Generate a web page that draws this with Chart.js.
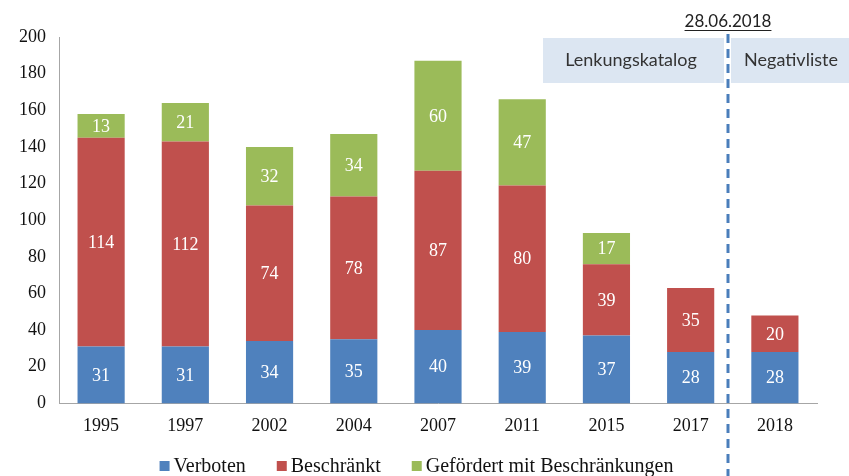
<!DOCTYPE html>
<html>
<head>
<meta charset="utf-8">
<script src="https://cdn.jsdelivr.net/npm/chart.js@4"></script>
<style>
  html, body { margin: 0; padding: 0; background: #fff; }
  #wrap { width: 849px; height: 476px; }
</style>
</head>
<body>
<div id="wrap"><canvas id="chart-regeln" width="849" height="476"></canvas></div>
<script>
// ---- Daten ----
const JAHRE       = ['1995', '1997', '2002', '2004', '2007', '2011', '2015', '2017', '2018'];
const VERBOTEN    = [31, 31, 34, 35, 40, 39, 37, 28, 28];
const BESCHRAENKT = [114, 112, 74, 78, 87, 80, 39, 35, 20];
const GEFOERDERT  = [13, 21, 32, 34, 60, 47, 17, null, null];
const Y_TICKS     = [0, 20, 40, 60, 80, 100, 120, 140, 160, 180, 200];

const STICHTAG    = '28.06.2018';
const PHASEN      = ['Lenkungskatalog', 'Negativliste'];

const FARBEN = { verboten: '#4f81bd', beschraenkt: '#c0504d', gefoerdert: '#9bbb59' };
const SERIF  = "'Liberation Serif', 'Times New Roman', serif";
const SANS   = "Lato, 'Open Sans', sans-serif";

// ---- Zahlen weiss in die Segmente ----
const segmentLabels = {
  id: 'segment-labels',
  afterDatasetsDraw(chart) {
    const { ctx } = chart;
    ctx.save();
    ctx.font = `18px ${SERIF}`;
    ctx.fillStyle = '#ffffff';
    ctx.textAlign = 'center';
    ctx.textBaseline = 'middle';
    chart.data.datasets.forEach((ds, i) => {
      const meta = chart.getDatasetMeta(i);
      meta.data.forEach((bar, j) => {
        const v = ds.data[j];
        if (v == null) return;
        ctx.fillText(String(v), bar.x, (bar.y + bar.base) / 2 + 1);
      });
    });
    ctx.restore();
  }
};

// ---- Legende unten, eigene Zeichnung ----
const legendeUnten = {
  id: 'legende-unten',
  afterDraw(chart) {
    const { ctx } = chart;
    const ds = chart.data.datasets;
    const box = 10, gapText = 4, gapItem = 31, y = 466;
    ctx.save();
    ctx.font = `20px ${SERIF}`;
    const widths = ds.map(d => box + gapText + ctx.measureText(d.label).width);
    const total = widths.reduce((a, b) => a + b, 0) + gapItem * (ds.length - 1);
    let x = (chart.width - total) / 2 - 8;
    ctx.textBaseline = 'middle';
    ctx.textAlign = 'left';
    ds.forEach((d, i) => {
      ctx.fillStyle = d.backgroundColor;
      ctx.fillRect(x, y - box / 2, box, box);
      ctx.fillStyle = '#111';
      ctx.fillText(d.label, x + box + gapText, y + 1);
      x += widths[i] + gapItem;
    });
    ctx.restore();
  }
};

// ---- Stichtag: gestrichelte Linie + Phasenkaesten ----
const stichtagX = chart => Math.round(chart.scales.x.getPixelForValue(7.5)) - 5;

const stichtag = {
  id: 'stichtag',
  beforeDatasetsDraw(chart) {
    const { ctx, scales: { y } } = chart;
    const lx = stichtagX(chart);
    const top = y.getPixelForValue(200);
    const boxH = 45;

    ctx.save();
    ctx.fillStyle = '#dce6f2';
    ctx.fillRect(lx - 185, top + 1, 181, boxH);
    ctx.fillRect(lx + 3, top + 1, chart.width - lx, boxH);

    ctx.font = `18px ${SANS}`;
    ctx.fillStyle = '#333333';
    ctx.textAlign = 'center';
    ctx.textBaseline = 'middle';
    ctx.fillText(PHASEN[0], lx - 97, top + 23);
    ctx.fillText(PHASEN[1], lx + 63, top + 23);
    ctx.restore();
  },
  afterDraw(chart) {
    const { ctx } = chart;
    const lx = stichtagX(chart);
    ctx.save();
    ctx.strokeStyle = '#4a7ebb';
    ctx.lineWidth = 3;
    ctx.setLineDash([9, 6]);
    ctx.beginPath();
    ctx.moveTo(lx, 34);
    ctx.lineTo(lx, chart.height);
    ctx.stroke();

    ctx.setLineDash([]);
    ctx.font = `17px ${SANS}`;
    ctx.fillStyle = '#222222';
    ctx.textAlign = 'center';
    ctx.textBaseline = 'alphabetic';
    ctx.fillText(STICHTAG, lx, 27);
    const w = ctx.measureText(STICHTAG).width;
    ctx.fillRect(lx - w / 2, 30, w, 1);
    ctx.restore();
  }
};

new Chart(document.getElementById('chart-regeln'), {
  type: 'bar',
  data: {
    labels: JAHRE,
    datasets: [
      { label: 'Verboten', data: VERBOTEN, backgroundColor: FARBEN.verboten },
      { label: 'Beschränkt', data: BESCHRAENKT, backgroundColor: FARBEN.beschraenkt },
      { label: 'Gefördert mit Beschränkungen', data: GEFOERDERT, backgroundColor: FARBEN.gefoerdert }
    ]
  },
  options: {
    responsive: false,
    animation: false,
    devicePixelRatio: 1,
    layout: { padding: { top: 37, right: 32, left: 6, bottom: 27 } },
    datasets: { bar: { categoryPercentage: 1, barPercentage: 0.56, borderWidth: 0 } },
    plugins: {
      legend: { display: false },
      tooltip: { enabled: false }
    },
    scales: {
      x: {
        stacked: true,
        grid: { display: false, drawTicks: false },
        border: { color: '#a6a6a6', width: 1 },
        ticks: { color: '#111', padding: 12, font: { family: SERIF, size: 18 } }
      },
      y: {
        stacked: true,
        min: 0,
        max: 200,
        afterBuildTicks: s => { s.ticks = Y_TICKS.map(v => ({ value: v })); },
        grid: { display: false, drawTicks: false },
        border: { color: '#a6a6a6', width: 1 },
        ticks: { color: '#111', padding: 13, font: { family: SERIF, size: 18 } }
      }
    }
  },
  plugins: [stichtag, segmentLabels, legendeUnten]
});
</script>
</body>
</html>
